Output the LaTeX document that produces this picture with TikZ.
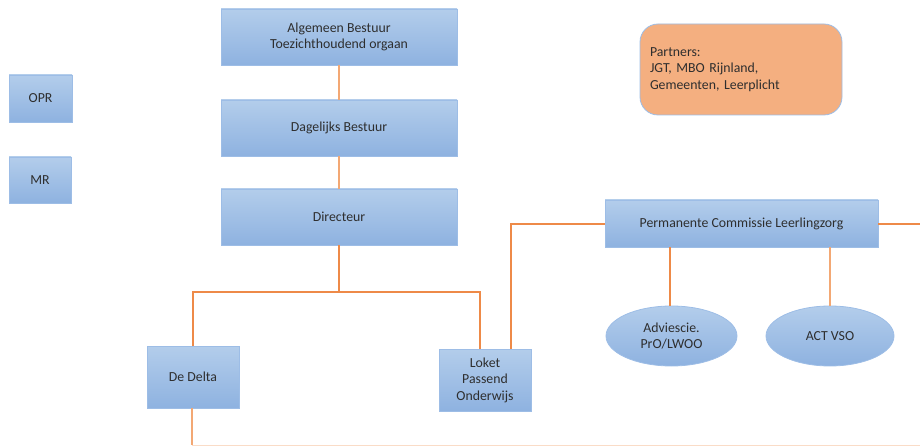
\documentclass[tikz,border=0pt]{standalone}
\usepackage{fontspec}
\setmainfont{Carlito}
\usetikzlibrary{shapes.geometric,calc}
\definecolor{boxtop}{HTML}{B3CDEB}
\definecolor{boxbot}{HTML}{8EB2E0}
\definecolor{boxline}{HTML}{9DBDE6}
\definecolor{conn}{HTML}{EE8A48}
\definecolor{connlight}{HTML}{F3A874}
\definecolor{partfill}{HTML}{F4AF80}
\definecolor{txt}{HTML}{2E2E2E}
\begin{document}
\begin{tikzpicture}[x=1pt,y=-1pt,
  txtfont/.style={font=\fontsize{13.8}{16.5}\selectfont},
  bluebox/.style={rectangle,draw=boxline,line width=0.8pt,top color=boxtop,bottom color=boxbot,
    align=center,text=txt,txtfont,inner sep=0pt},
  blueoval/.style={ellipse,draw=boxline,line width=0.8pt,top color=boxtop,bottom color=boxbot,
    align=center,text=txt,txtfont,inner sep=0pt},
  link/.style={draw=conn,line width=1.8pt},
  lightlink/.style={draw=connlight,line width=2.4pt}]
\useasboundingbox (0,0) rectangle (920,446);
\node[bluebox,minimum width=236pt,minimum height=56pt] (ab) at (339,37) {Algemeen Bestuur\\Toezichthoudend orgaan};
\node[bluebox,minimum width=236pt,minimum height=56pt] (db) at (339,128) {Dagelijks Bestuur};
\node[bluebox,minimum width=236pt,minimum height=56pt] (dir) at (339,217) {Directeur};
\node[bluebox,minimum width=63pt,minimum height=47pt] (opr) at (40.5,98.5) {OPR};
\node[bluebox,minimum width=62pt,minimum height=46pt] (mr) at (40,180) {MR};
\node[rectangle,rounded corners=18pt,draw=boxline,line width=0.8pt,fill=partfill,
  minimum width=202pt,minimum height=91pt,text=txt,align=left,text width=182pt,
  txtfont] (part) at (741,69.5) {Partners:\\JGT, MBO Rijnland,\\Gemeenten, Leerplicht};
\node[bluebox,minimum width=273pt,minimum height=47pt] (pcl) at (741.5,223.5) {Permanente Commissie Leerlingzorg};
\node[blueoval,minimum width=131pt,minimum height=60pt] (adv) at (671.5,336) {Adviescie.\\PrO/LWOO};
\node[blueoval,minimum width=128pt,minimum height=60pt] (act) at (830,336) {ACT VSO};
\node[bluebox,minimum width=92pt,minimum height=62pt] (delta) at (193,377) {De Delta};
\node[bluebox,minimum width=92pt,minimum height=62pt] (loket) at (485,380) {Loket\\Passend\\Onderwijs};
% connectors
\draw[lightlink] (ab.south) -- (db.north);
\draw[lightlink] (db.south) -- (dir.north);
\coordinate (split) at (339,292);
\draw[link] (dir.south) -- (split);
\coordinate (loketa) at (480,349);
\draw[link] (delta.north) |- (split) -| (loketa);
\coordinate (loketb) at (511,349);
\coordinate (pclleft) at (511,224);
\draw[link] (loketb) -- (pclleft) -- (pcl.west |- pclleft);
\coordinate (rightend) at (920,224);
\draw[link] (pcl.east |- rightend) -- (rightend);
\coordinate (advtop) at (670,247);
\draw[link] (advtop) -- (advtop |- adv.north);
\coordinate (acttop) at (830,247);
\draw[lightlink] (acttop) -- (act.north);
\coordinate (bottomleft) at (192,445);
\coordinate (bottomright) at (920,445);
\draw[lightlink] (delta.south -| bottomleft) -- (bottomleft);
\draw[draw=connlight!40,line width=1pt] (bottomleft) -- (bottomright);
\end{tikzpicture}
\end{document}
